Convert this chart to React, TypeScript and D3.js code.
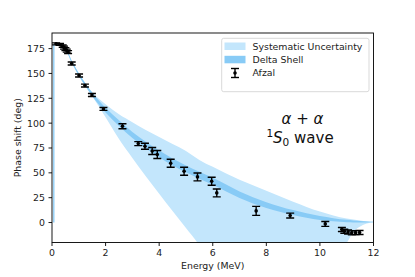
import React from "react";
import * as d3 from "d3";

// ---- data ----
const energyGrid = [0.09, 0.3, 0.5, 0.75, 1.0, 1.25, 1.5, 2.0, 2.5, 3.0, 3.5, 4.0, 4.5, 5.0, 5.5, 6.0, 7.0, 8.0, 9.0, 10.0, 10.5, 11.0, 11.25, 11.5, 11.75, 12.0];
const deltaMid = [179.5, 179.3, 175.5, 161, 149, 138.5, 129, 113, 100, 88, 78, 69, 61, 54, 47.5, 41.5, 28, 17.5, 10, 4.5, 2.8, 1.5, 1.1, 0.8, 0.6, 0.5];
const deltaHalf = [0.4, 0.5, 0.8, 1, 1.2, 1.5, 1.8, 2.4, 2.8, 3, 3.2, 3.4, 3.5, 3.5, 3.5, 3.5, 3.3, 3, 2.5, 2, 1.6, 1.2, 1, 0.8, 0.5, 0.3];
const systUpper = [179.9, 179.8, 176.3, 162, 150.2, 140, 131, 119, 109, 101, 93, 86, 79, 72, 63, 56, 43, 32, 21, 11, 7, 4, 3, 2, 1.3, 0.8];
const systLower = [179.1, 178.8, 174.7, 160, 147.8, 137, 127, 106, 84, 65, 46.5, 29, 11.5, -5.5, -23, -45, -85, -110, -100, -60, -40, -20.5, -9.5, -4, -1, 0.2];

const afzalE = [0.15, 0.3, 0.4, 0.45, 0.5, 0.55, 0.6, 0.735, 1.01, 1.23, 1.49, 1.92, 2.63, 3.22, 3.47, 3.74, 3.93, 4.43, 4.93, 5.43, 5.96, 6.15, 7.62, 8.89, 10.2, 10.82, 10.91, 11.05, 11.19, 11.33, 11.48];
const afzalPhase = [179.8, 179.2, 177.5, 176, 174.5, 173, 171.5, 160, 148, 137.8, 128.3, 114.3, 96.9, 79.4, 76.7, 72, 68.4, 59.6, 51.6, 45.9, 41.5, 29.8, 11.7, 7, -1.4, -7, -8.8, -9.5, -10.4, -10.2, -10];
const afzalErr = [1, 1, 1.2, 1.5, 1.5, 1.5, 1.5, 1.5, 1.5, 1.5, 1.5, 1.5, 2.5, 2, 3, 3.5, 4, 4, 4, 4, 4, 4, 4.5, 2.5, 2.5, 2, 2, 2, 2, 2, 2];

const xTicks = [0, 2, 4, 6, 8, 10, 12];
const yTicks = [0, 25, 50, 75, 100, 125, 150, 175];
const legendLabels = ["Systematic Uncertainty", "Delta Shell", "Afzal"];

const W = 415, H = 277;
const L = 52, R = 373.5, T = 33, B = 242.5;
const FONT = "DejaVu Sans, sans-serif";
const LIGHT = "#c3e6fc";
const DARK = "#88cbf6";

export default function App() {
  const x = d3.scaleLinear().domain([0, 12]).range([L, R]);
  const y = d3.scaleLinear().domain([-20.1, 190.7]).range([B, T]);

  const idx = energyGrid.map((_, i) => i);
  const systArea = d3
    .area<number>()
    .x((i) => x(energyGrid[i]))
    .y0((i) => y(systLower[i]))
    .y1((i) => y(systUpper[i]))
    .curve(d3.curveMonotoneX);
  const deltaArea = d3
    .area<number>()
    .x((i) => x(energyGrid[i]))
    .y0((i) => y(deltaMid[i] - deltaHalf[i]))
    .y1((i) => y(deltaMid[i] + deltaHalf[i]))
    .curve(d3.curveMonotoneX);

  const cap = 4;

  return (
    <svg
      width={W}
      height={H}
      style={{ position: "absolute", left: 0, top: 0, background: "#fff" }}
      fontFamily={FONT}
    >
      <defs>
        <clipPath id="plot">
          <rect x={L} y={T} width={R - L} height={B - T} />
        </clipPath>
      </defs>
      <rect x={0} y={0} width={W} height={H} fill="#fff" />
      <g clipPath="url(#plot)">
        <path d={systArea(idx) || ""} fill={LIGHT} />
        <path d={deltaArea(idx) || ""} fill={DARK} />
        <line
          x1={x(energyGrid[0]) - 0.6}
          x2={x(energyGrid[0]) - 0.6}
          y1={y(0)}
          y2={y(deltaMid[0])}
          stroke={DARK}
          strokeWidth={1.3}
        />
        {afzalE.map((e, i) => {
          const cx = x(e);
          const yt = y(afzalPhase[i] + afzalErr[i]);
          const yb = y(afzalPhase[i] - afzalErr[i]);
          return (
            <g key={i} stroke="#000" strokeWidth={1.4}>
              <line x1={cx} x2={cx} y1={yt} y2={yb} />
              <line x1={cx - cap} x2={cx + cap} y1={yt} y2={yt} />
              <line x1={cx - cap} x2={cx + cap} y1={yb} y2={yb} />
              <circle cx={cx} cy={y(afzalPhase[i])} r={1.8} fill="#000" stroke="none" />
            </g>
          );
        })}
      </g>
      {/* spines */}
      <rect x={L} y={T} width={R - L} height={B - T} fill="none" stroke="#000" strokeWidth={0.9} />
      {/* x ticks */}
      {xTicks.map((t) => (
        <g key={"x" + t}>
          <line x1={x(t)} x2={x(t)} y1={B} y2={B + 3.5} stroke="#000" strokeWidth={0.9} />
          <text x={x(t)} y={B + 13.5} fontSize={9.4} textAnchor="middle" fill="#222">
            {t}
          </text>
        </g>
      ))}
      {yTicks.map((t) => (
        <g key={"y" + t}>
          <line x1={L - 3.5} x2={L} y1={y(t)} y2={y(t)} stroke="#000" strokeWidth={0.9} />
          <text x={L - 7} y={y(t) + 3.4} fontSize={9.4} textAnchor="end" fill="#222">
            {t}
          </text>
        </g>
      ))}
      <text x={(L + R) / 2} y={269} fontSize={9.4} textAnchor="middle" fill="#222">
        Energy (MeV)
      </text>
      <text
        transform={`translate(21, ${(T + B) / 2}) rotate(-90)`}
        fontSize={9.4}
        textAnchor="middle"
        fill="#222"
      >
        Phase shift (deg)
      </text>

      {/* annotation */}
      <text x={302.5} y={124} fontSize={15} textAnchor="middle" fill="#111">
        <tspan fontStyle="italic">α</tspan>
        <tspan> + </tspan>
        <tspan fontStyle="italic">α</tspan>
      </text>
      <text x={300} y={142.7} fontSize={15} textAnchor="middle" fill="#111">
        <tspan fontSize={10.5} dy={-5.5}>1</tspan>
        <tspan fontStyle="italic" dy={5.5}>S</tspan>
        <tspan fontSize={10.5} dy={3}>0</tspan>
        <tspan dy={-3}> wave</tspan>
      </text>

      {/* legend */}
      <rect x={221.7} y={38.3} width={147.3} height={53.4} rx={2} fill="#fff" fillOpacity={0.8} stroke="#d5d5d5" strokeWidth={0.9} />
      <rect x={224.5} y={42.5} width={21} height={7.5} fill={LIGHT} />
      <rect x={224.5} y={55.8} width={21} height={7.5} fill={DARK} />
      <g stroke="#000" strokeWidth={1.4}>
        <line x1={235} x2={235} y1={68.5} y2={77.5} />
        <line x1={231} x2={239} y1={68.5} y2={68.5} />
        <line x1={231} x2={239} y1={77.5} y2={77.5} />
        <circle cx={235} cy={73} r={1.8} fill="#000" stroke="none" />
      </g>
      {legendLabels.map((l, i) => (
        <text key={l} x={252.5} y={49.6 + i * 13.4} fontSize={9.4} fill="#222">
          {l}
        </text>
      ))}
    </svg>
  );
}
